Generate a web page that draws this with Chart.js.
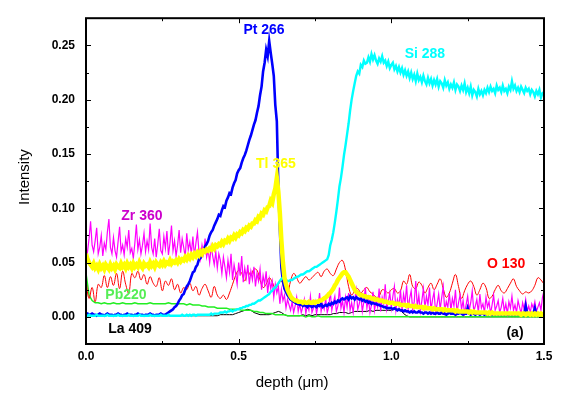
<!DOCTYPE html>
<html>
<head>
<meta charset="utf-8">
<script src="https://cdn.jsdelivr.net/npm/chart.js@4.4.1/dist/chart.umd.min.js"></script>
<style>
  html, body { margin: 0; padding: 0; background: #fff; }
</style>
</head>
<body>
<canvas id="myChart" width="563" height="399"></canvas>
<script>
// sampling grids of the depth profile (um)
const fineStep = 0.005, fineCount = 301;
const coarseStep = 0.01, coarseCount = 151;
const depthFine = [], depthCoarse = [];
for (let i = 0; i < fineCount; i++) depthFine.push(+(i * fineStep).toFixed(3));
for (let i = 0; i < coarseCount; i++) depthCoarse.push(+(i * coarseStep).toFixed(2));

// Pt 266 (fine grid)
const pt266 = [
  0.002,0.003,0.002,0.002,0.003,0.002,0.002,0.001,0.002,0.003,
  0.002,0.002,0.001,0.002,0.003,0.002,0.002,0.002,0.001,0.002,
  0.002,0.003,0.002,0.002,0.001,0.002,0.002,0.003,0.002,0.002,
  0.002,0.001,0.002,0.002,0.003,0.002,0.002,0.002,0.001,0.002,
  0.002,0.002,0.003,0.002,0.002,0.001,0.002,0.002,0.002,0.003,
  0.002,0.002,0.002,0.003,0.004,0.005,0.006,0.007,0.009,0.010,
  0.012,0.015,0.017,0.020,0.021,0.025,0.028,0.030,0.033,0.037,
  0.041,0.042,0.046,0.048,0.053,0.054,0.058,0.061,0.065,0.067,
  0.070,0.075,0.078,0.080,0.084,0.087,0.090,0.094,0.093,0.098,
  0.102,0.101,0.107,0.110,0.114,0.113,0.119,0.123,0.126,0.132,
  0.135,0.137,0.142,0.146,0.149,0.153,0.158,0.163,0.167,0.172,
  0.177,0.181,0.188,0.194,0.204,0.212,0.226,0.234,0.246,0.240,
  0.254,0.243,0.233,0.222,0.195,0.180,0.120,0.080,0.045,0.033,
  0.026,0.023,0.020,0.018,0.016,0.015,0.014,0.013,0.012,0.012,
  0.011,0.012,0.010,0.011,0.010,0.009,0.011,0.010,0.009,0.010,
  0.010,0.009,0.011,0.010,0.012,0.009,0.010,0.011,0.010,0.012,
  0.011,0.013,0.012,0.014,0.013,0.015,0.014,0.016,0.017,0.016,
  0.017,0.018,0.016,0.019,0.017,0.018,0.016,0.018,0.017,0.016,
  0.017,0.015,0.016,0.014,0.015,0.013,0.014,0.012,0.013,0.012,
  0.012,0.011,0.011,0.010,0.010,0.009,0.009,0.008,0.008,0.008,
  0.008,0.007,0.008,0.007,0.006,0.007,0.006,0.006,0.005,0.006,
  0.005,0.005,0.004,0.005,0.004,0.005,0.004,0.004,0.005,0.004,
  0.004,0.003,0.004,0.004,0.003,0.004,0.003,0.004,0.003,0.003,
  0.004,0.003,0.003,0.004,0.003,0.003,0.002,0.003,0.004,0.003,
  0.003,0.003,0.002,0.003,0.003,0.004,0.003,0.002,0.003,0.003,
  0.008,0.003,0.002,0.003,0.003,0.002,0.003,0.003,0.002,0.003,
  0.003,0.002,0.003,0.002,0.003,0.003,0.002,0.003,0.002,0.003,
  0.002,0.003,0.002,0.003,0.002,0.003,0.002,0.002,0.003,0.002,
  0.003,0.002,0.003,0.002,0.003,0.002,0.003,0.002,0.010,0.003,
  0.002,0.003,0.002,0.003,0.008,0.002,0.003,0.002,0.003,0.002,
  0.003
];

// Si 288 (fine grid)
const si288 = [
  0.001,0.001,0.002,0.001,0.001,0.001,0.001,0.002,0.001,0.001,
  0.001,0.001,0.001,0.001,0.002,0.001,0.001,0.001,0.001,0.001,
  0.001,0.002,0.001,0.001,0.001,0.001,0.001,0.001,0.002,0.001,
  0.001,0.001,0.001,0.001,0.001,0.002,0.001,0.001,0.001,0.001,
  0.001,0.001,0.002,0.001,0.001,0.001,0.001,0.001,0.001,0.002,
  0.001,0.001,0.001,0.001,0.002,0.001,0.001,0.001,0.001,0.001,
  0.001,0.001,0.001,0.002,0.001,0.001,0.002,0.001,0.002,0.001,
  0.002,0.002,0.001,0.002,0.002,0.002,0.002,0.002,0.002,0.002,
  0.002,0.002,0.003,0.002,0.003,0.003,0.003,0.003,0.004,0.004,
  0.004,0.005,0.004,0.005,0.005,0.006,0.005,0.006,0.006,0.007,
  0.007,0.008,0.008,0.009,0.009,0.010,0.010,0.011,0.011,0.012,
  0.012,0.013,0.014,0.015,0.015,0.016,0.017,0.018,0.019,0.020,
  0.021,0.023,0.024,0.026,0.027,0.029,0.031,0.033,0.035,0.036,
  0.035,0.034,0.033,0.033,0.034,0.034,0.035,0.036,0.037,0.037,
  0.038,0.039,0.039,0.040,0.041,0.042,0.042,0.043,0.044,0.045,
  0.046,0.046,0.047,0.048,0.049,0.050,0.051,0.052,0.053,0.057,
  0.066,0.071,0.078,0.087,0.097,0.108,0.120,0.128,0.138,0.149,
  0.158,0.168,0.178,0.190,0.200,0.208,0.215,0.222,0.226,0.224,
  0.232,0.230,0.236,0.233,0.234,0.239,0.235,0.242,0.237,0.241,
  0.236,0.233,0.238,0.235,0.240,0.234,0.236,0.231,0.235,0.229,
  0.232,0.234,0.228,0.231,0.226,0.230,0.225,0.229,0.223,0.227,
  0.222,0.226,0.220,0.225,0.219,0.223,0.217,0.224,0.218,0.221,
  0.216,0.222,0.217,0.214,0.220,0.215,0.219,0.213,0.218,0.214,
  0.219,0.212,0.217,0.215,0.211,0.218,0.213,0.216,0.210,0.214,
  0.211,0.216,0.209,0.214,0.212,0.208,0.213,0.209,0.215,0.207,
  0.211,0.206,0.212,0.204,0.209,0.207,0.203,0.210,0.205,0.208,
  0.204,0.209,0.206,0.211,0.207,0.212,0.208,0.210,0.206,0.213,
  0.209,0.211,0.207,0.213,0.208,0.210,0.206,0.212,0.209,0.217,
  0.210,0.213,0.208,0.211,0.207,0.212,0.209,0.206,0.211,0.208,
  0.210,0.205,0.209,0.207,0.203,0.208,0.205,0.209,0.202,0.206,
  0.207
];

// Tl 365 (fine grid)
const tl365 = [
  0.058,0.053,0.050,0.048,0.046,0.049,0.045,0.047,0.044,0.048,
  0.045,0.047,0.044,0.048,0.046,0.044,0.048,0.045,0.047,0.044,
  0.048,0.046,0.045,0.049,0.046,0.048,0.045,0.049,0.046,0.048,
  0.045,0.049,0.046,0.048,0.046,0.050,0.047,0.045,0.049,0.047,
  0.048,0.046,0.050,0.047,0.049,0.046,0.050,0.048,0.047,0.050,
  0.048,0.051,0.048,0.050,0.049,0.052,0.049,0.051,0.050,0.052,
  0.050,0.053,0.051,0.053,0.052,0.055,0.053,0.056,0.054,0.057,
  0.055,0.058,0.056,0.059,0.057,0.060,0.058,0.061,0.060,0.062,
  0.061,0.063,0.062,0.065,0.063,0.066,0.065,0.067,0.066,0.069,
  0.067,0.070,0.069,0.072,0.070,0.073,0.072,0.075,0.073,0.076,
  0.075,0.078,0.077,0.080,0.079,0.082,0.081,0.084,0.083,0.086,
  0.086,0.089,0.088,0.092,0.091,0.095,0.094,0.098,0.097,0.101,
  0.102,0.107,0.105,0.113,0.118,0.128,0.115,0.095,0.070,0.050,
  0.036,0.030,0.025,0.022,0.019,0.017,0.016,0.015,0.015,0.014,
  0.014,0.014,0.013,0.014,0.013,0.013,0.014,0.013,0.013,0.014,
  0.013,0.014,0.014,0.015,0.015,0.016,0.017,0.018,0.019,0.021,
  0.022,0.024,0.026,0.029,0.031,0.034,0.036,0.038,0.040,0.041,
  0.041,0.039,0.037,0.034,0.031,0.028,0.025,0.023,0.022,0.021,
  0.020,0.020,0.019,0.019,0.018,0.018,0.018,0.017,0.017,0.016,
  0.016,0.016,0.015,0.015,0.015,0.014,0.014,0.014,0.013,0.013,
  0.013,0.013,0.012,0.012,0.012,0.012,0.011,0.011,0.011,0.011,
  0.010,0.011,0.010,0.010,0.010,0.009,0.010,0.009,0.009,0.009,
  0.009,0.008,0.009,0.008,0.008,0.008,0.008,0.007,0.008,0.007,
  0.007,0.007,0.007,0.007,0.006,0.007,0.006,0.006,0.006,0.006,
  0.006,0.006,0.005,0.006,0.005,0.005,0.005,0.005,0.005,0.005,
  0.005,0.004,0.005,0.004,0.005,0.004,0.004,0.004,0.004,0.004,
  0.004,0.004,0.004,0.003,0.004,0.003,0.004,0.003,0.003,0.003,
  0.003,0.003,0.003,0.003,0.003,0.003,0.003,0.003,0.003,0.003,
  0.003,0.003,0.003,0.003,0.003,0.002,0.003,0.003,0.002,0.003,
  0.003,0.002,0.003,0.002,0.003,0.002,0.003,0.002,0.003,0.002,
  0.003
];

// Zr 360 (fine grid)
const zr360 = [
  0.052,0.060,0.072,0.088,0.066,0.060,0.070,0.082,0.058,0.064,
  0.075,0.056,0.068,0.062,0.078,0.090,0.064,0.058,0.073,0.061,
  0.055,0.069,0.083,0.060,0.066,0.057,0.072,0.064,0.080,0.059,
  0.063,0.054,0.068,0.085,0.062,0.071,0.058,0.066,0.077,0.060,
  0.070,0.062,0.086,0.064,0.058,0.072,0.055,0.067,0.081,0.061,
  0.058,0.074,0.063,0.079,0.057,0.068,0.084,0.061,0.070,0.056,
  0.066,0.080,0.059,0.072,0.064,0.055,0.077,0.062,0.069,0.058,
  0.074,0.056,0.068,0.078,0.060,0.053,0.066,0.058,0.072,0.055,
  0.062,0.050,0.065,0.056,0.048,0.060,0.045,0.058,0.052,0.040,
  0.055,0.046,0.036,0.052,0.041,0.058,0.034,0.048,0.040,0.030,
  0.050,0.038,0.056,0.032,0.045,0.036,0.048,0.030,0.042,0.034,
  0.046,0.028,0.040,0.033,0.044,0.025,0.038,0.030,0.042,0.022,
  0.035,0.026,0.033,0.018,0.030,0.022,0.028,0.012,0.025,0.015,
  0.020,0.008,0.016,0.011,0.006,0.014,0.004,0.010,0.018,0.005,
  0.012,0.004,0.009,0.016,0.003,0.011,0.006,0.019,0.004,0.008,
  0.014,0.003,0.010,0.022,0.005,0.012,0.007,0.017,0.004,0.009,
  0.024,0.006,0.013,0.019,0.005,0.010,0.027,0.008,0.015,0.004,
  0.018,0.009,0.022,0.006,0.013,0.004,0.016,0.025,0.007,0.012,
  0.020,0.005,0.014,0.027,0.008,0.017,0.004,0.011,0.023,0.006,
  0.015,0.009,0.026,0.005,0.018,0.012,0.030,0.007,0.014,0.022,
  0.008,0.019,0.028,0.006,0.016,0.010,0.025,0.005,0.021,0.013,
  0.029,0.007,0.017,0.024,0.006,0.014,0.033,0.009,0.020,0.005,
  0.015,0.026,0.008,0.019,0.011,0.027,0.006,0.016,0.023,0.004,
  0.012,0.021,0.007,0.018,0.028,0.005,0.014,0.009,0.022,0.006,
  0.017,0.010,0.025,0.004,0.013,0.020,0.007,0.015,0.003,0.011,
  0.019,0.006,0.013,0.024,0.005,0.010,0.016,0.004,0.021,0.008,
  0.012,0.004,0.018,0.009,0.014,0.003,0.011,0.020,0.006,0.010,
  0.015,0.004,0.009,0.017,0.005,0.012,0.003,0.014,0.008,0.019,
  0.006,0.011,0.004,0.015,0.009,0.003,0.013,0.007,0.016,0.005,
  0.010,0.004,0.012,0.008,0.014,0.005,0.009,0.013,0.006,0.018,
  0.024
];

// O 130 (coarse grid)
const o130 = [
  0.033,0.017,0.027,0.014,0.030,0.027,0.038,0.027,0.037,0.029,
  0.040,0.026,0.042,0.030,0.022,0.040,0.036,0.042,0.034,0.039,
  0.030,0.037,0.031,0.028,0.036,0.024,0.033,0.029,0.035,0.025,
  0.030,0.022,0.027,0.025,0.031,0.024,0.028,0.020,0.026,0.030,
  0.024,0.018,0.028,0.020,0.017,0.020,0.016,0.022,0.030,0.038,
  0.043,0.040,0.033,0.042,0.038,0.044,0.043,0.034,0.027,0.030,
  0.036,0.032,0.026,0.030,0.033,0.025,0.022,0.033,0.040,0.036,
  0.031,0.034,0.037,0.034,0.036,0.039,0.041,0.037,0.042,0.044,
  0.040,0.038,0.044,0.050,0.052,0.043,0.028,0.020,0.024,0.026,
  0.022,0.025,0.027,0.023,0.021,0.018,0.019,0.025,0.024,0.022,
  0.025,0.026,0.022,0.024,0.033,0.030,0.039,0.028,0.026,0.032,
  0.029,0.022,0.027,0.031,0.025,0.030,0.035,0.026,0.018,0.022,
  0.031,0.039,0.028,0.017,0.024,0.030,0.033,0.028,0.020,0.025,
  0.031,0.027,0.017,0.019,0.025,0.029,0.024,0.022,0.026,0.031,
  0.035,0.028,0.024,0.021,0.023,0.022,0.024,0.029,0.036,0.034,
  0.030
];

// Pb 220 (coarse grid)
const pb220 = [
  0.040,0.020,0.015,0.013,0.013,0.012,0.013,0.012,0.012,0.013,
  0.012,0.012,0.013,0.012,0.012,0.012,0.013,0.012,0.012,0.012,
  0.012,0.013,0.012,0.012,0.012,0.012,0.012,0.013,0.012,0.012,
  0.012,0.012,0.012,0.011,0.012,0.011,0.011,0.011,0.010,0.010,
  0.009,0.009,0.009,0.008,0.008,0.008,0.008,0.007,0.007,0.007,
  0.007,0.006,0.006,0.006,0.006,0.005,0.005,0.004,0.004,0.003,
  0.003,0.003,0.002,0.002,0.002,0.002,0.001,0.001,0.001,0.001,
  0.001,0.001,0.000,0.001,0.000,0.000,0.001,0.000,0.000,0.000,
  0.000,0.000,0.000,0.000,0.000,0.000,0.000,0.000,0.000,0.000,
  0.000,0.000,0.000,0.000,0.000,0.000,0.000,0.000,0.000,0.000,
  0.000,0.000,0.000,0.000,0.000,0.000,0.000,0.000,0.000,0.000,
  0.000,0.000,0.000,0.000,0.000,0.000,0.000,0.000,0.000,0.000,
  0.000,0.000,0.000,0.000,0.000,0.000,0.000,0.000,0.000,0.000,
  0.000,0.000,0.000,0.000,0.000,0.000,0.000,0.000,0.000,0.000,
  0.000,0.000,0.000,0.000,0.000,0.000,0.000,0.000,0.000,0.000,
  0.000
];

// La 409 (coarse grid)
const la409 = [
  0.001,0.001,0.002,0.002,0.001,0.002,0.001,0.002,0.001,0.001,
  0.002,0.001,0.001,0.002,0.001,0.001,0.001,0.002,0.001,0.001,
  0.001,0.001,0.002,0.001,0.001,0.001,0.001,0.001,0.001,0.001,
  0.001,0.001,0.001,0.001,0.001,0.001,0.001,0.001,0.001,0.001,
  0.001,0.001,0.001,0.001,0.002,0.002,0.002,0.002,0.002,0.003,
  0.004,0.005,0.006,0.007,0.006,0.004,0.003,0.002,0.002,0.002,
  0.002,0.003,0.004,0.005,0.004,0.002,0.001,0.001,0.001,0.001,
  0.001,0.002,0.001,0.002,0.001,0.002,0.002,0.002,0.002,0.002,
  0.002,0.003,0.003,0.004,0.004,0.004,0.003,0.004,0.005,0.005,
  0.005,0.005,0.005,0.006,0.005,0.006,0.006,0.006,0.006,0.006,
  0.006,0.007,0.007,0.006,0.003,0.001,0.000,0.000,0.000,0.000,
  0.000,0.000,0.000,0.000,0.000,0.000,0.000,0.000,0.000,0.000,
  0.000,0.000,0.000,0.000,0.000,0.000,0.000,0.000,0.000,0.000,
  0.000,0.000,0.000,0.000,0.000,0.000,0.000,0.000,0.000,0.000,
  0.000,0.000,0.000,0.000,0.000,0.000,0.000,0.000,0.000,0.000,
  0.000
];

// axis ticks
const xMajor = [0, 0.5, 1.0, 1.5];
const xMinor = [0.25, 0.75, 1.25];
const yMajor = [0, 0.05, 0.10, 0.15, 0.20, 0.25];
const yMinor = [0.025, 0.075, 0.125, 0.175, 0.225];

// in-plot labels
const labelText  = ['Pt 266', 'Si 288', 'Tl 365', 'Zr 360', 'O 130', 'Pb220', 'La 409', '(a)'];
const labelX     = [0.583, 1.11, 0.622, 0.183, 1.376, 0.131, 0.144, 1.405];
const labelY     = [0.264, 0.242, 0.141, 0.093, 0.0486, 0.020, -0.011, -0.0154];
const labelColor = ['#0000ff', '#00ffff', '#ffff00', '#cc00cc', '#ff0000', '#55ee55', '#000000', '#000000'];

const FONT = '"Liberation Sans", Arial, sans-serif';

function pts(xs, arr) {
  return arr.map((v, i) => ({ x: xs[i], y: v }));
}

function series(label, xs, arr, color, width, order, tension) {
  return {
    label: label,
    data: pts(xs, arr),
    borderColor: color,
    backgroundColor: color,
    borderWidth: width,
    pointRadius: 0,
    tension: tension || 0,
    fill: false,
    order: order
  };
}

const frameAndText = {
  id: 'frameAndText',
  afterDatasetsDraw(chart) {
    const ctx = chart.ctx;
    const a = chart.chartArea;
    const xs = chart.scales.x, ys = chart.scales.y;
    ctx.save();
    ctx.strokeStyle = '#000';
    ctx.lineWidth = 1;
    ctx.beginPath();
    xMajor.concat(xMinor).forEach(v => {
      const len = xMajor.includes(v) ? 5 : 3;
      const px = Math.round(xs.getPixelForValue(v)) + 0.5;
      ctx.moveTo(px, a.bottom); ctx.lineTo(px, a.bottom - len);
      ctx.moveTo(px, a.top); ctx.lineTo(px, a.top + len);
    });
    yMajor.concat(yMinor).forEach(v => {
      const len = yMajor.includes(v) ? 5 : 3;
      const py = Math.round(ys.getPixelForValue(v)) + 0.5;
      ctx.moveTo(a.left, py); ctx.lineTo(a.left + len, py);
      ctx.moveTo(a.right, py); ctx.lineTo(a.right - len, py);
    });
    ctx.stroke();
    ctx.lineWidth = 2;
    ctx.strokeRect(a.left, a.top, a.right - a.left, a.bottom - a.top);

    ctx.textAlign = 'center';
    ctx.textBaseline = 'middle';
    ctx.font = 'bold 14px ' + FONT;
    labelText.forEach((t, i) => {
      ctx.fillStyle = labelColor[i];
      ctx.fillText(t, xs.getPixelForValue(labelX[i]), ys.getPixelForValue(labelY[i]));
    });

    ctx.fillStyle = '#000';
    ctx.font = '15px ' + FONT;
    ctx.fillText('depth (\u03bcm)', a.left + (a.right - a.left) * 0.45, 383);
    ctx.translate(25, (a.top + a.bottom) / 2 - 4);
    ctx.rotate(-Math.PI / 2);
    ctx.fillText('Intensity', 0, 0);
    ctx.restore();
  }
};

new Chart(document.getElementById('myChart'), {
  type: 'line',
  data: {
    datasets: [
      series('La 409', depthCoarse, la409, '#000000', 1, 7),
      series('Pb220', depthCoarse, pb220, '#22ee22', 1.5, 6),
      series('O 130', depthCoarse, o130, '#ff0000', 1, 5, 0.4),
      series('Zr 360', depthFine, zr360, '#ff00ff', 1.2, 4),
      series('Pt 266', depthFine, pt266, '#0000ff', 2.6, 3),
      series('Si 288', depthFine, si288, '#00ffff', 2.4, 2),
      series('Tl 365', depthFine, tl365, '#ffff00', 4.5, 1)
    ]
  },
  options: {
    responsive: false,
    animation: false,
    devicePixelRatio: 1,
    layout: { padding: { left: 0, right: 19, top: 6, bottom: 0 } },
    plugins: {
      legend: { display: false },
      tooltip: { enabled: false }
    },
    scales: {
      x: {
        type: 'linear',
        min: 0,
        max: 1.5,
        afterFit: s => { s.height = 55; },
        afterBuildTicks: s => { s.ticks = xMajor.map(v => ({ value: v })); },
        grid: { display: false, drawTicks: false },
        border: { display: false },
        ticks: {
          padding: 5,
          color: '#000',
          font: { family: FONT, size: 12, weight: 'bold' },
          callback: v => v.toFixed(1)
        }
      },
      y: {
        type: 'linear',
        min: -0.025,
        max: 0.275,
        afterFit: s => { s.width = 86; },
        afterBuildTicks: s => { s.ticks = yMajor.map(v => ({ value: v })); },
        grid: { display: false, drawTicks: false },
        border: { display: false },
        ticks: {
          padding: 11,
          color: '#000',
          font: { family: FONT, size: 12, weight: 'bold' },
          callback: v => v.toFixed(2)
        }
      }
    }
  },
  plugins: [frameAndText]
});
</script>
</body>
</html>
